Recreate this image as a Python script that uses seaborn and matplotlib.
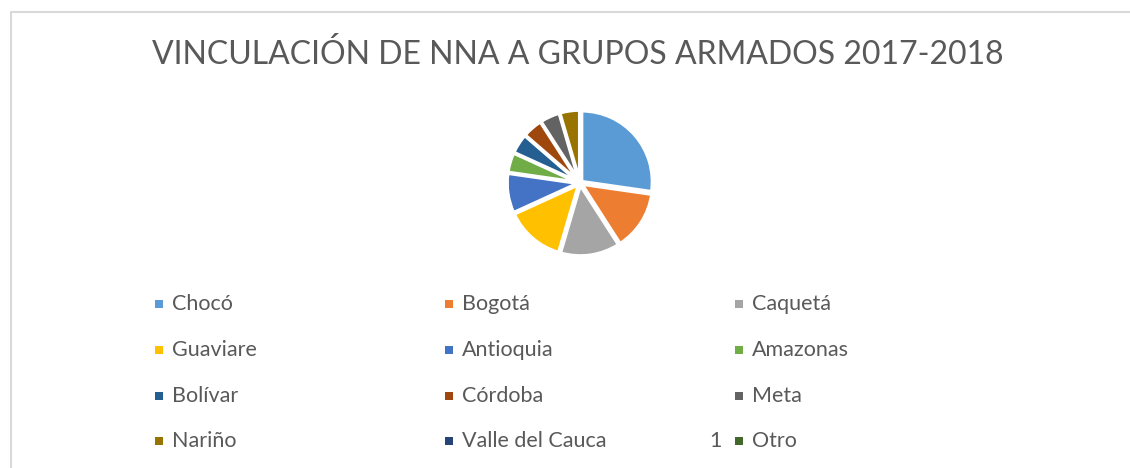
import matplotlib
matplotlib.use("Agg")
import matplotlib.pyplot as plt
import matplotlib.patches as mpatches
from matplotlib.lines import Line2D
import seaborn as sns

# data
departamentos = ["Chocó", "Bogotá", "Caquetá", "Guaviare", "Antioquia", "Amazonas",
                 "Bolívar", "Córdoba", "Meta", "Nariño", "Valle del Cauca", "Otro"]
casos = [6, 3, 3, 3, 2, 1, 1, 1, 1, 1, 0, 0]
colores = ["#5B9BD5", "#ED7D31", "#A5A5A5", "#FFC000", "#4472C4", "#70AD47",
           "#255E91", "#9E480E", "#636363", "#997300", "#264478", "#43682B"]
titulo = "VINCULACIÓN DE NNA A GRUPOS ARMADOS 2017-2018"

sns.set_theme(style="white")
plt.rcParams['font.family'] = ['Lato', 'DejaVu Sans']

W, H = 1130, 468
fig = plt.figure(figsize=(W / 100, H / 100), dpi=100)
fig.patch.set_facecolor("white")

def fx(px):
    return px / W

def fy(py):
    return 1 - py / H

# chart border (only left and top visible)
fig.add_artist(Line2D([fx(11), fx(11), fx(W)], [fy(H), fy(12), fy(12)],
                      color="#d9d9d9", lw=1.5, transform=fig.transFigure))

fig.text(fx(578), fy(55), titulo, ha="center", va="center",
         fontsize=23, color="#595959")

# pie
cx, cy, size = 580, 183, 160
ax = fig.add_axes([fx(cx - size / 2), fy(cy + size / 2), fx(size), size / H])
vals = [v for v in casos if v > 0]
cols = [c for v, c in zip(casos, colores) if v > 0]
ax.pie(vals, colors=cols, startangle=90, counterclock=False,
       explode=[0.03] * len(vals),
       wedgeprops=dict(edgecolor="white", linewidth=2.5))
ax.set_xlim(-1.13, 1.13)
ax.set_ylim(-1.13, 1.13)
ax.set_aspect("equal")
ax.axis("off")

# legend, 3 columns, row-major
col_x = [155, 445, 735]
row_y = [304, 350, 396, 441]
for i, (name, c) in enumerate(zip(departamentos, colores)):
    r, k = divmod(i, 3)
    x, y = col_x[k], row_y[r]
    fig.add_artist(mpatches.Rectangle((fx(x), fy(y + 4)), fx(8), 8 / H,
                                      facecolor=c, edgecolor="none",
                                      transform=fig.transFigure))
    fig.text(fx(x + 17), fy(y), name, ha="left", va="center",
             fontsize=15.5, color="#595959")

fig.text(fx(722), fy(row_y[3]), "1", ha="right", va="center",
         fontsize=15.5, color="#595959")

fig.savefig("out.png", dpi=100, facecolor="white")
